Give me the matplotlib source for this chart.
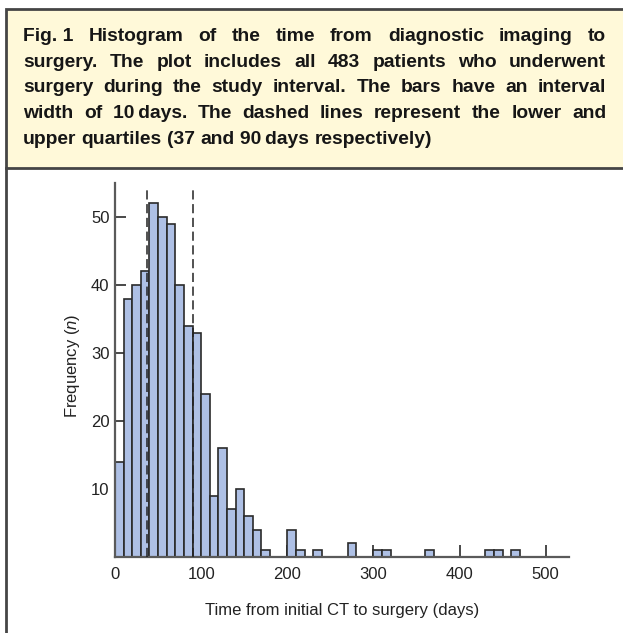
# Histogram of time from diagnostic imaging to surgery (Fig. 1)

import matplotlib
matplotlib.use('Agg')
import matplotlib.pyplot as plt
from matplotlib.patches import Rectangle
from matplotlib.lines import Line2D

plt.rcParams['font.family'] = ['Liberation Sans', 'DejaVu Sans']
plt.rcParams['mathtext.fontset'] = 'custom'
plt.rcParams['mathtext.rm'] = 'Liberation Sans'
plt.rcParams['mathtext.it'] = 'Liberation Sans:italic'

# Data: 10-day bins, counts
bin_width = 10
bin_left = list(range(0, 470, 10))
counts = [14, 38, 40, 42, 52, 50, 49, 40, 34, 33,
          24, 9, 16, 7, 10, 6, 4, 1, 0, 0,
          4, 1, 0, 1, 0, 0, 0, 2, 0, 0,
          1, 1, 0, 0, 0, 0, 1, 0, 0, 0,
          0, 0, 0, 1, 1, 0, 1]
quartiles = [37, 90]
x_ticks = [0, 100, 200, 300, 400, 500]
y_ticks = [10, 20, 30, 40, 50]

caption_lines = [
    'Fig.\u00a01 Histogram of the time from diagnostic imaging to',
    'surgery. The plot includes all 483 patients who underwent',
    'surgery during the study interval. The bars have an interval',
    'width of 10\u2009days. The dashed lines represent the lower and',
    'upper quartiles (37 and 90\u2009days respectively)',
]

W, H = 623, 633
fig = plt.figure(figsize=(W / 100, H / 100), dpi=100)

# caption box and frame
fig.patches.append(Rectangle((5.5 / W, 1 - 168 / H), 1, (168 - 9) / H,
                             transform=fig.transFigure, facecolor='#fff9d9',
                             edgecolor='#454545', linewidth=2, zorder=0))
fig.lines.append(Line2D([5.5 / W, 5.5 / W], [0, 1 - 168 / H], transform=fig.transFigure,
                        color='#454545', linewidth=2))

# justified caption text
fs = 13.9
fig.canvas.draw()
r = fig.canvas.get_renderer()
x0, x1 = 23, 606
for i, line in enumerate(caption_lines):
    words = line.split(' ')
    y = 1 - (40.8 + i * 25.8) / H
    texts = [fig.text(0, y, w, fontsize=fs, fontweight='bold', color='#161616',
                      va='baseline', ha='left') for w in words]
    widths = [t.get_window_extent(r).width for t in texts]
    if i < len(caption_lines) - 1:
        gap = (x1 - x0 - sum(widths)) / (len(words) - 1)
    else:
        gap = fs * 100 / 72 * 0.278
    x = x0
    for t, w in zip(texts, widths):
        t.set_x(x / W)
        x += w + gap

# histogram axes
ax = fig.add_axes([115 / W, 1 - 557 / H, (569 - 115) / W, (557 - 183) / H])
left = [b for b, c in zip(bin_left, counts) if c > 0]
heights = [c for c in counts if c > 0]
ax.bar(left, heights, width=bin_width, align='edge', color='#aec0e5',
       edgecolor='#2a2a2a', linewidth=1.2, zorder=2)
for q in quartiles:
    ax.axvline(q, ymax=0.985, color='#222222', linewidth=1.1, linestyle=(0, (6, 3)), zorder=3)

ax.set_xlim(0, 527)
ax.set_ylim(0, 55)
ax.set_xticks(x_ticks)
ax.set_yticks(y_ticks)
for s in ['top', 'right']:
    ax.spines[s].set_visible(False)
for s in ['left', 'bottom']:
    ax.spines[s].set_color('#5a5a5a')
    ax.spines[s].set_linewidth(1.6)
ax.tick_params(axis='both', direction='in', color='#2a2a2a', width=1.2,
               labelsize=12, labelcolor='#222222')
ax.tick_params(axis='x', length=9, pad=7)
ax.tick_params(axis='y', length=8, pad=4)

ax.set_xlabel('Time from initial CT to surgery (days)', fontsize=12, color='#222222')
ax.set_ylabel('Frequency ($\\mathit{n}$)', fontsize=12, color='#222222')
ax.xaxis.set_label_coords(0.5, -0.123)
ax.yaxis.set_label_coords(-0.073, 0.51)

fig.savefig('out.png', dpi=100)
